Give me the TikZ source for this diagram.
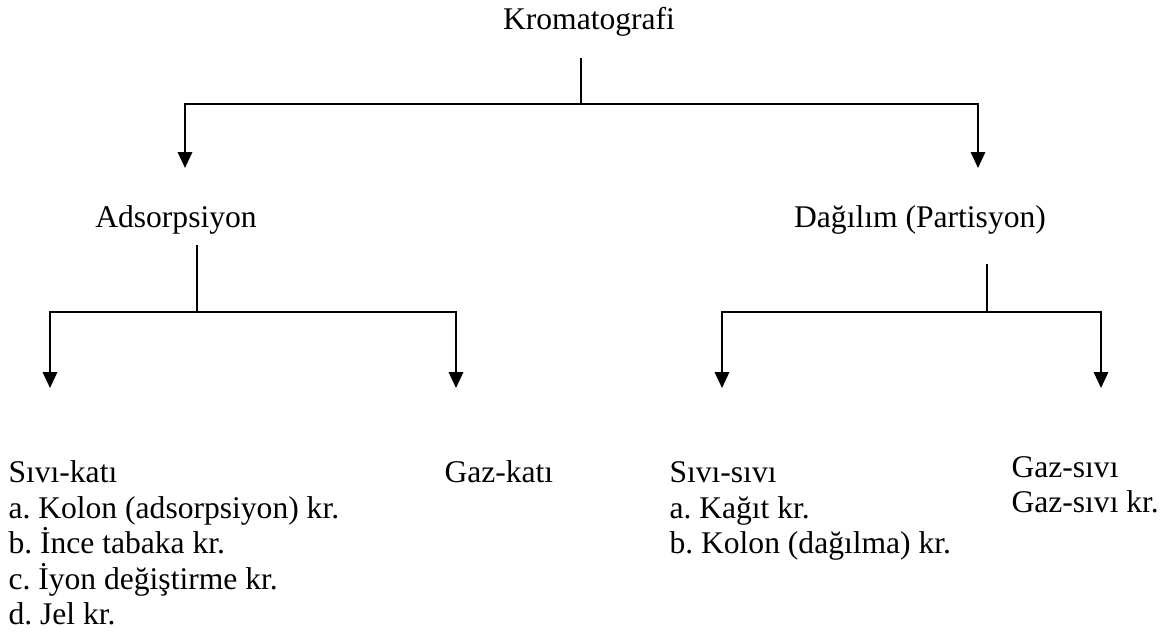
\documentclass[tikz,border=0pt]{standalone}
\usepackage{fontspec}
\setmainfont{Liberation Serif}
\usepackage{tikz}
\usetikzlibrary{arrows.meta,positioning}
\frenchspacing

\begin{document}
\begin{tikzpicture}[x=0.38pt, y=-0.38pt]
			\tikzstyle{Title}	= [inner sep=0pt, anchor=base, font=\fontsize{12}{14}\selectfont]
			\tikzstyle{Item}	= [inner sep=0pt, anchor=base west, font=\fontsize{12}{14}\selectfont]
			\tikzstyle{Line}	= [line width=0.8pt, black]
			\tikzstyle{Arrow}	= [Line, -{Triangle[width=5.4pt, length=6pt]}]
			
			\useasboundingbox (0,0) rectangle (1172,637);
			
			% top level
			\node (krom) at (589, 29) [Title] {Kromatografi};
			\node (ads) at (176, 227) [Title] {Adsorpsiyon};
			\node (dag) at (920, 227) [Title] {Dağılım (Partisyon)};
			
			\coordinate (k0) at (581, 58);
			\coordinate (k1) at (581, 104);
			\coordinate (kl) at (185, 168);
			\coordinate (kr) at (978, 168);
			
			\draw (k0) -- (k1) [Line];
			\draw (k1) -| (kl) [Arrow];
			\draw (k1) -| (kr) [Arrow];
			
			% adsorpsiyon
			\coordinate (a0) at (197, 245);
			\coordinate (a1) at (197, 312);
			\coordinate (al) at (50, 388);
			\coordinate (ar) at (456, 388);
			
			\draw (a0) -- (a1) [Line];
			\draw (a1) -| (al) [Arrow];
			\draw (a1) -| (ar) [Arrow];
			
			% dagilim
			\coordinate (d0) at (987, 264);
			\coordinate (d1) at (987, 312);
			\coordinate (dl) at (722, 388);
			\coordinate (dr) at (1101, 388);
			
			\draw (d0) -- (d1) [Line];
			\draw (d1) -| (dl) [Arrow];
			\draw (d1) -| (dr) [Arrow];
			
			% lists
			\node (sk) at (8, 482) [Item] {Sıvı-katı};
			\node (ska) at (8, 518) [Item] {a. Kolon (adsorpsiyon) kr.};
			\node (skb) at (8, 553) [Item] {b. İnce tabaka kr.};
			\node (skc) at (8, 589) [Item] {c. İyon değiştirme kr.};
			\node (skd) at (8, 624) [Item] {d. Jel kr.};
			
			\node (gk) at (444, 482) [Item] {Gaz-katı};
			
			\node (ss) at (669, 482) [Item] {Sıvı-sıvı};
			\node (ssa) at (669, 518) [Item] {a. Kağıt kr.};
			\node (ssb) at (669, 553) [Item] {b. Kolon (dağılma) kr.};
			
			\node (gs) at (1011, 477) [Item] {Gaz-sıvı};
			\node (gsa) at (1011, 512) [Item] {Gaz-sıvı kr.};
		\end{tikzpicture}
\end{document}
